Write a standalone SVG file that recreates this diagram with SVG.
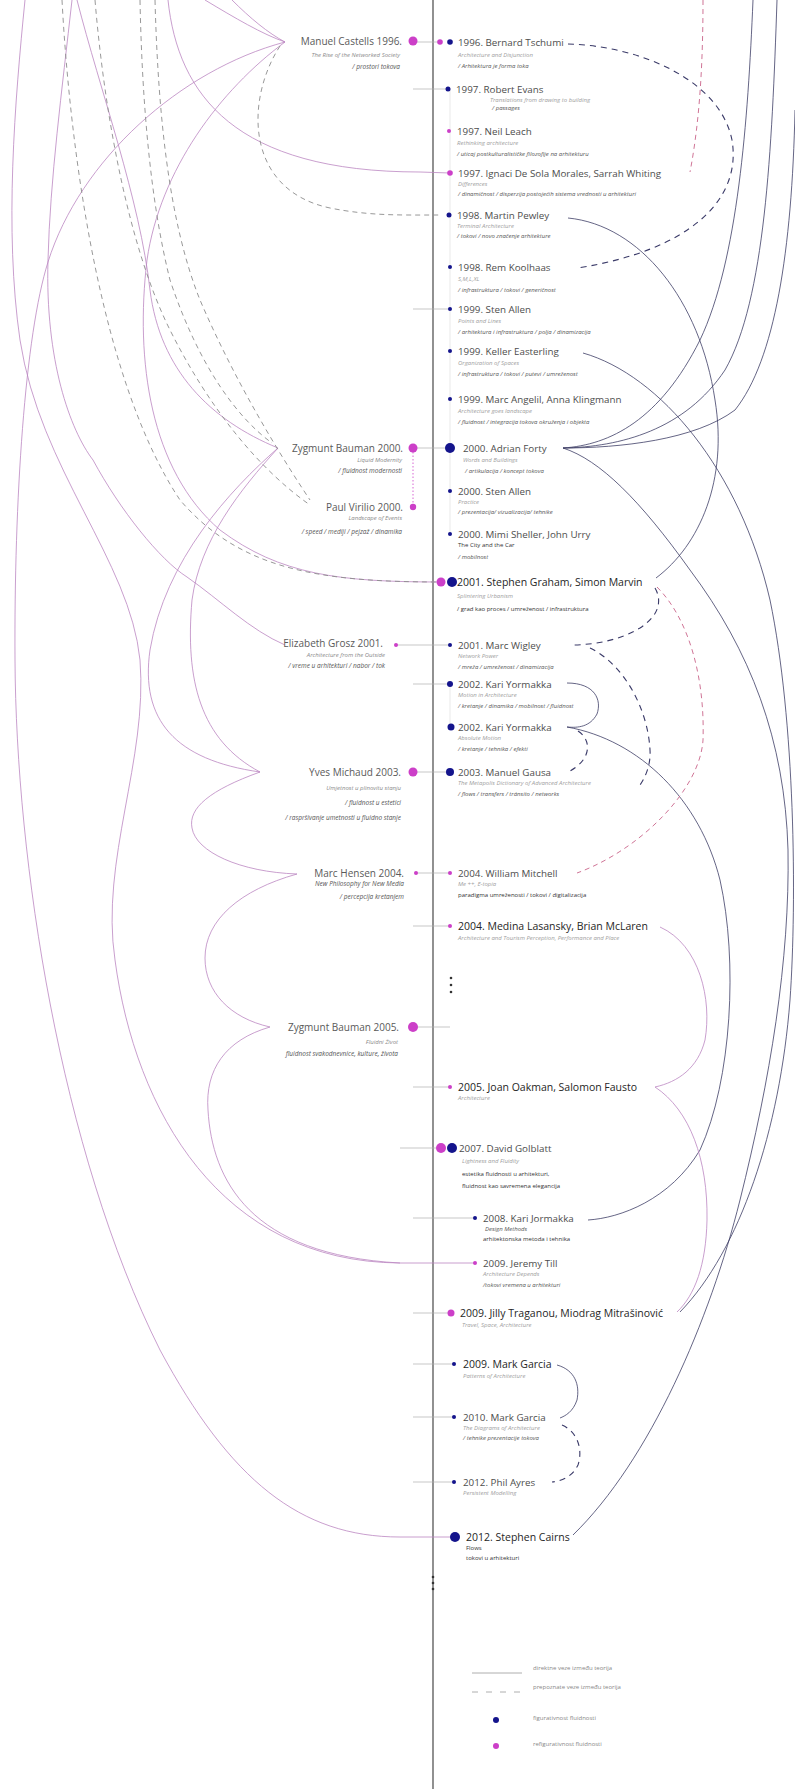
<svg xmlns="http://www.w3.org/2000/svg" width="795" height="1789" viewBox="0 0 795 1789">
<style>
  text { font-family: "Open Sans", "Liberation Sans", sans-serif; }
  .t { font-size: 9.8px; fill: #4d4d4d; }
  .tb { font-size: 10.5px; fill: #262626; }
  .s1 { font-size: 6px; font-style: italic; fill: #a0a0a0; }
  .s2 { font-size: 6px; font-style: italic; fill: #555; }
  .s3 { font-size: 6px; fill: #333; }
  .lt { font-size: 10px; fill: #5a5a5a; text-anchor: end; }
  .ls1 { font-size: 6px; font-style: italic; fill: #8a8a8a; text-anchor: end; }
  .ls2 { font-size: 6.5px; font-style: italic; fill: #555; text-anchor: end; }
  .lg { font-size: 6px; fill: #888; }
  .nv { fill: #14148c; }
  .mg { fill: #cc3fc8; }
  .cm { fill: none; stroke: #bb86c2; stroke-width: 0.8; }
  .cd { fill: none; stroke: #8c8c8c; stroke-width: 0.9; stroke-dasharray: 5 4; }
  .cn { fill: none; stroke: #3d3d66; stroke-width: 0.8; }
  .cnd { fill: none; stroke: #3a3a68; stroke-width: 1.1; stroke-dasharray: 6 5; }
  .cpd { fill: none; stroke: #c9648a; stroke-width: 0.9; stroke-dasharray: 5 4; }
  .stub { fill: none; stroke: #b0b0b0; stroke-width: 0.7; }
</style>

<!-- time axis -->
<g id="axis">
  <line x1="433" y1="0" x2="433" y2="1789" stroke="#555" stroke-width="1.3"/>
  <line x1="450" y1="89" x2="450" y2="534" stroke="#e0e0e0" stroke-width="0.7"/>
  <line x1="450" y1="684" x2="450" y2="727" stroke="#e0e0e0" stroke-width="0.7"/>
  <line x1="413" y1="452" x2="413" y2="503" stroke="#cc3fc8" stroke-width="0.8" stroke-dasharray="1.5 2"/>
  <circle cx="451" cy="978" r="1.3" fill="#333"/>
  <circle cx="451" cy="985" r="1.3" fill="#333"/>
  <circle cx="451" cy="992" r="1.3" fill="#333"/>
  <circle cx="433" cy="1577" r="1.3" fill="#333"/>
  <circle cx="433" cy="1583" r="1.3" fill="#333"/>
  <circle cx="433" cy="1589" r="1.3" fill="#333"/>
</g>

<!-- connectors -->
<g id="connectors">
  <!-- short horizontal links to the axis entries -->
  <path class="stub" d="M413,42 H440 M413,89 H448 M413,309 H450 M413,448 H450 M396,645 H450 M413,684 H450 M413,772 H450 M416,873 H450 M413,926 H450 M413,1027 H450 M413,1087 H450 M400,1148 H441 M413,1218 H475 M413,1313 H451 M413,1364 H454 M413,1417 H454 M413,1482 H454"/>

  <!-- left side: solid links -->
  <path class="cm" d="M285,42 C180,70 80,160 48,262 C25,335 14,500 15,660 C16,860 60,1150 160,1350 C230,1480 300,1537 400,1537 L455,1537"/>
  <path class="cm" d="M285,42 C220,90 160,170 147,260 C135,360 150,470 220,530 C280,575 340,582 441,582"/>
  <path class="cm" d="M168,0 C178,95 235,172 420,172 L450,173"/>
  <path class="cm" d="M205,0 C235,18 262,34 285,42"/>
  <path class="cm" d="M232,0 C250,18 268,33 285,42"/>
  <path class="cm" d="M25,0 C15,100 4,230 20,340 C40,470 130,560 140,660 C148,760 100,860 115,960 C135,1110 220,1262 400,1263 L475,1263"/>
  <path class="cm" d="M72,0 C62,90 50,180 48,260 C45,360 70,430 93,460 C120,510 160,560 187,577 C220,600 250,630 285,645"/>
  <path class="cm" d="M278,448 C230,490 165,560 150,650 C140,720 175,760 260,772"/>
  <path class="cm" d="M278,448 C240,490 200,540 192,600 C185,680 200,740 260,772"/>
  <path class="cm" d="M77,0 C100,90 140,200 150,290 C160,370 210,420 278,448"/>
  <path class="cm" d="M260,772 C210,790 188,808 192,828 C196,852 240,872 297,874"/>
  <path class="cm" d="M297,874 C240,890 205,920 205,958 C205,992 230,1018 270,1027"/>
  <path class="cm" d="M270,1027 C225,1040 205,1070 208,1110 C212,1180 250,1255 400,1263"/>

  <!-- left side: recognised links -->
  <path class="cd" d="M280,46 C245,100 245,190 330,208 C370,216 400,215 440,215"/>
  <path class="cd" d="M62,0 C70,150 100,380 180,500 C240,570 320,582 441,582"/>
  <path class="cd" d="M95,0 C105,120 130,250 170,330 C210,410 260,470 310,505"/>
  <path class="cd" d="M140,0 C142,100 150,200 170,280 C200,370 240,420 272,443"/>
  <path class="cd" d="M155,0 C158,110 168,220 200,300 C230,370 270,440 310,500"/>

  <!-- right side: direct links -->
  <path class="cn" d="M568,218 C640,225 700,300 715,400 C728,480 700,545 656,578"/>
  <path class="cn" d="M563,448 C600,460 640,500 690,570 C750,650 785,740 788,850 C790,960 770,1080 740,1200 C710,1320 650,1460 573,1535"/>
  <path class="cn" d="M753,0 C748,120 738,260 700,340 C660,420 610,445 563,448"/>
  <path class="cn" d="M777,0 C772,150 765,300 725,370 C685,430 620,447 563,448"/>
  <path class="cn" d="M795,110 C792,250 775,360 735,410 C695,440 620,448 563,448"/>
  <path class="cn" d="M583,353 C660,375 740,470 770,600 C795,720 797,900 790,1000 C780,1130 740,1250 680,1312"/>
  <path class="cn" d="M567,683 C595,683 602,700 597,714 C590,727 578,728 567,727"/>
  <path class="cn" d="M567,727 C640,740 700,800 720,880 C738,960 732,1080 700,1150 C670,1200 620,1218 588,1220"/>
  <path class="cn" d="M557,1365 C575,1370 580,1385 577,1400 C573,1412 565,1416 560,1418"/>
  <path class="cm" d="M660,927 C700,945 712,1000 705,1040 C698,1068 678,1082 655,1087"/>
  <path class="cm" d="M655,1087 C690,1110 708,1160 707,1220 C706,1265 695,1295 677,1312"/>

  <!-- right side: recognised links -->
  <path class="cnd" d="M568,44 C640,46 720,80 732,140 C742,200 690,250 578,268"/>
  <path class="cpd" d="M703,0 C703,60 700,120 690,172"/>
  <path class="cnd" d="M655,588 C662,600 660,615 640,628 C620,640 595,645 570,645"/>
  <path class="cnd" d="M590,648 C625,665 648,710 650,750 C651,765 645,778 640,785"/>
  <path class="cnd" d="M578,731 C592,740 592,760 568,772"/>
  <path class="cpd" d="M657,587 C690,620 705,680 703,740 C700,790 640,850 577,873"/>
  <path class="cnd" d="M562,1425 C578,1432 583,1450 578,1465 C572,1477 562,1481 552,1482"/>
</g>

<!-- left column: authors outside architecture -->
<g id="castells-1996">
  <circle class="mg" cx="413" cy="41" r="4.5"/>
  <text class="lt" x="402" y="44.5">Manuel Castells 1996.</text>
  <text class="ls1" x="400" y="57">The Rise of the Networked Society</text>
  <text class="ls2" x="400" y="68.5" font-style="normal">/ prostori tokova</text>
</g>
<g id="bauman-2000">
  <circle class="mg" cx="413" cy="448" r="4.5"/>
  <text class="lt" x="403" y="452">Zygmunt Bauman 2000.</text>
  <text class="ls1" x="402" y="462">Liquid Modernity</text>
  <text class="ls2" x="402" y="472.5">/ fluidnost modernosti</text>
</g>
<g id="virilio-2000">
  <circle class="mg" cx="413" cy="507" r="3.2"/>
  <text class="lt" x="403" y="511">Paul Virilio 2000.</text>
  <text class="ls1" x="402" y="519.5">Landscape of Events</text>
  <text class="ls2" x="402" y="533.5">/ speed / mediji / pejzaž / dinamika</text>
</g>
<g id="grosz-2001">
  <circle class="mg" cx="396" cy="645" r="2"/>
  <text class="lt" x="383" y="646.5" font-size="9.5">Elizabeth Grosz 2001.</text>
  <text class="ls1" x="385" y="657">Architecture from the Outside</text>
  <text class="ls2" x="385" y="667.5">/ vreme u arhitekturi / nabor / tok</text>
</g>
<g id="michaud-2003">
  <circle class="mg" cx="413" cy="772" r="4.5"/>
  <text class="lt" x="401" y="776">Yves Michaud 2003.</text>
  <text class="ls1" x="401" y="790" font-size="8">Umjetnost u plinovitu stanju</text>
  <text class="ls2" x="401" y="805" font-size="7.5" font-style="normal">/ fluidnost u estetici</text>
  <text class="ls2" x="401" y="820" font-size="7.5" font-style="normal">/ raspršivanje umetnosti u fluidno stanje</text>
</g>
<g id="hensen-2004">
  <circle class="mg" cx="416" cy="873" r="2"/>
  <text class="lt" x="404" y="876.5">Marc Hensen 2004.</text>
  <text class="ls2" x="404" y="885.5">New Philosophy for New Media</text>
  <text class="ls2" x="404" y="899">/ percepcija kretanjem</text>
</g>
<g id="bauman-2005">
  <circle class="mg" cx="413" cy="1027" r="5"/>
  <text class="lt" x="399" y="1031">Zygmunt Bauman 2005.</text>
  <text class="ls1" x="398" y="1043.5" font-size="7.5">Fluidni Život</text>
  <text class="ls2" x="398" y="1055.5" font-size="7.5" font-style="normal">fluidnost svakodnevnice, kulture, života</text>
</g>

<!-- right column: architectural theory -->
<g id="tschumi-1996">
  <circle class="mg" cx="440" cy="42" r="2.8"/>
  <circle class="nv" cx="450" cy="42" r="2.8"/>
  <text class="t" x="458" y="45.5">1996. Bernard Tschumi</text>
  <text class="s1" x="458" y="57">Architecture and Disjunction</text>
  <text class="s2" x="458" y="68">/ Arhitektura je forma toka</text>
</g>
<g id="evans-1997">
  <circle class="nv" cx="448" cy="89" r="2.5"/>
  <text class="t" x="456" y="92.5">1997. Robert Evans</text>
  <text class="s1" x="490" y="102">Translations from drawing to building</text>
  <text class="s2" x="492" y="110">/ passages</text>
</g>
<g id="leach-1997">
  <circle class="mg" cx="449" cy="131" r="2"/>
  <text class="t" x="457" y="134.5">1997. Neil Leach</text>
  <text class="s1" x="457" y="144.5">Rethinking architecture</text>
  <text class="s2" x="457" y="155.5">/ uticaj postkulturalističke filozofije na arhitekturu</text>
</g>
<g id="desolamorales-1997">
  <circle class="mg" cx="450" cy="173" r="2.8"/>
  <text class="t" x="458" y="176.5">1997. Ignaci De Sola Morales, Sarrah Whiting</text>
  <text class="s1" x="458" y="185.5">Differences</text>
  <text class="s2" x="458" y="195.5">/ dinamičnost / disperzija postojećih sistema vrednosti u arhitekturi</text>
</g>
<g id="pewley-1998">
  <circle class="nv" cx="449" cy="215" r="2.5"/>
  <text class="t" x="457" y="218.5">1998. Martin Pewley</text>
  <text class="s1" x="457" y="227.5">Terminal Architecture</text>
  <text class="s2" x="457" y="237.5">/ tokovi / novo značenje arhitekture</text>
</g>
<g id="koolhaas-1998">
  <circle class="nv" cx="450" cy="267" r="2"/>
  <text class="t" x="458" y="270.5">1998. Rem Koolhaas</text>
  <text class="s1" x="458" y="280.5">S,M,L,XL</text>
  <text class="s2" x="458" y="292">/ infrastruktura / tokovi / generičnost</text>
</g>
<g id="allen-1999">
  <circle class="nv" cx="450" cy="309" r="2"/>
  <text class="t" x="458" y="312.5">1999. Sten Allen</text>
  <text class="s1" x="458" y="322.5">Points and Lines</text>
  <text class="s2" x="458" y="334">/ arhitektura i infrastruktura / polja / dinamizacija</text>
</g>
<g id="easterling-1999">
  <circle class="nv" cx="450" cy="351" r="2"/>
  <text class="t" x="458" y="354.5">1999. Keller Easterling</text>
  <text class="s1" x="458" y="364.5">Organization of Spaces</text>
  <text class="s2" x="458" y="376">/ infrastruktura / tokovi / putevi / umreženost</text>
</g>
<g id="angelil-1999">
  <circle class="nv" cx="450" cy="399" r="2"/>
  <text class="t" x="458" y="402.5">1999. Marc Angelil, Anna Klingmann</text>
  <text class="s1" x="458" y="412.5">Architecture goes landscape</text>
  <text class="s2" x="458" y="424">/ fluidnost / integracija tokova okruženja i objekta</text>
</g>
<g id="forty-2000">
  <circle class="nv" cx="450" cy="448" r="5"/>
  <text class="t" x="463" y="451.5">2000. Adrian Forty</text>
  <text class="s1" x="463" y="461.5">Words and Buildings</text>
  <text class="s2" x="465" y="473">/ artikulacija / koncept tokova</text>
</g>
<g id="allen-2000">
  <circle class="nv" cx="450" cy="491" r="2"/>
  <text class="t" x="458" y="494.5">2000. Sten Allen</text>
  <text class="s1" x="458" y="503.5">Practice</text>
  <text class="s2" x="458" y="514">/ prezentacija/ vizualizacija/ tehnike</text>
</g>
<g id="sheller-2000">
  <circle class="nv" cx="450" cy="534" r="2"/>
  <text class="t" x="458" y="537.5">2000. Mimi Sheller, John Urry</text>
  <text class="s3" x="458" y="547">The City and the Car</text>
  <text class="s2" x="458" y="559">/ mobilnost</text>
</g>
<g id="graham-2001">
  <circle class="mg" cx="441" cy="582" r="4.5"/>
  <circle class="nv" cx="452" cy="582" r="5"/>
  <text class="tb" x="457" y="586">2001. Stephen Graham, Simon Marvin</text>
  <text class="s1" x="457" y="597.5" font-size="7">Splintering Urbanism</text>
  <text class="s3" x="457" y="611" font-size="8">/ grad kao proces / umreženost / infrastruktura</text>
</g>
<g id="wigley-2001">
  <circle class="nv" cx="450" cy="645" r="2"/>
  <text class="t" x="458" y="648.5">2001. Marc Wigley</text>
  <text class="s1" x="458" y="658">Network Power</text>
  <text class="s2" x="458" y="669">/ mreža / umreženost / dinamizacija</text>
</g>
<g id="yormakka-2002a">
  <circle class="nv" cx="450" cy="684" r="3"/>
  <text class="t" x="458" y="687.5">2002. Kari Yormakka</text>
  <text class="s1" x="458" y="697">Motion in Architecture</text>
  <text class="s2" x="458" y="708">/ kretanje / dinamika / mobilnost / fluidnost</text>
</g>
<g id="yormakka-2002b">
  <circle class="nv" cx="451" cy="727" r="3.5"/>
  <text class="t" x="458" y="730.5">2002. Kari Yormakka</text>
  <text class="s1" x="458" y="740">Absolute Motion</text>
  <text class="s2" x="458" y="750.5">/ kretanje / tehnika / efekti</text>
</g>
<g id="gausa-2003">
  <circle class="nv" cx="450" cy="772" r="4"/>
  <text class="t" x="458" y="775.5">2003. Manuel Gausa</text>
  <text class="s1" x="458" y="784.5">The Metapolis Dictionary of Advanced Architecture</text>
  <text class="s2" x="458" y="795.5">/ flows / transfers / tránsito / networks</text>
</g>
<g id="mitchell-2004">
  <circle class="mg" cx="450" cy="873" r="2"/>
  <text class="t" x="458" y="876.5">2004. William Mitchell</text>
  <text class="s1" x="458" y="886">Me ++, E-topia</text>
  <text class="s3" x="458" y="896.5">paradigma umreženosti / tokovi / digitalizacija</text>
</g>
<g id="lasansky-2004">
  <circle class="mg" cx="450" cy="926" r="2"/>
  <text class="tb" x="458" y="929.5">2004. Medina Lasansky, Brian McLaren</text>
  <text class="s1" x="458" y="939.5">Architecture and Tourism Perception, Performance and Place</text>
</g>
<g id="oakman-2005">
  <circle class="mg" cx="450" cy="1087" r="2"/>
  <text class="tb" x="458" y="1090.5">2005. Joan Oakman, Salomon Fausto</text>
  <text class="s1" x="458" y="1100">Architecture</text>
</g>
<g id="golblatt-2007">
  <circle class="mg" cx="441" cy="1148" r="5"/>
  <circle class="nv" cx="452" cy="1148" r="5"/>
  <text class="t" x="459" y="1151.5">2007. David Golblatt</text>
  <text class="s1" x="462" y="1162.5" font-size="7" font-style="normal">Lightness and Fluidity</text>
  <text class="s3" x="462" y="1175.5" font-size="7.5">estetika fluidnosti u arhitekturi,</text>
  <text class="s3" x="462" y="1187.5" font-size="7.5">fluidnost kao savremena elegancija</text>
</g>
<g id="jormakka-2008">
  <circle class="nv" cx="475" cy="1218" r="2"/>
  <text class="t" x="483" y="1221.5">2008. Kari Jormakka</text>
  <text class="s2" x="485" y="1231">Design Methods</text>
  <text class="s3" x="483" y="1241">arhitektonska metoda i tehnika</text>
</g>
<g id="till-2009">
  <circle class="mg" cx="475" cy="1263" r="2"/>
  <text class="t" x="483" y="1266.5">2009. Jeremy Till</text>
  <text class="s1" x="483" y="1276">Architecture Depends</text>
  <text class="s2" x="483" y="1287">/tokovi vremena u arhitekturi</text>
</g>
<g id="traganou-2009">
  <circle class="mg" cx="451" cy="1313" r="3.5"/>
  <text class="tb" x="460" y="1316.5">2009. Jilly Traganou, Miodrag Mitrašinović</text>
  <text class="s1" x="462" y="1326.5">Travel, Space, Architecture</text>
</g>
<g id="garcia-2009">
  <circle class="nv" cx="454" cy="1364" r="2"/>
  <text class="tb" x="463" y="1367.5">2009. Mark Garcia</text>
  <text class="s1" x="463" y="1377.5">Patterns of Architecture</text>
</g>
<g id="garcia-2010">
  <circle class="nv" cx="454" cy="1417" r="2"/>
  <text class="t" x="463" y="1420.5">2010. Mark Garcia</text>
  <text class="s1" x="463" y="1430">The Diagrams of Architecture</text>
  <text class="s2" x="463" y="1439.5">/ tehnike prezentacije tokova</text>
</g>
<g id="ayres-2012">
  <circle class="nv" cx="454" cy="1482" r="2"/>
  <text class="t" x="463" y="1485.5">2012. Phil Ayres</text>
  <text class="s1" x="463" y="1495">Persistent Modelling</text>
</g>
<g id="cairns-2012">
  <circle class="nv" cx="455" cy="1537" r="5"/>
  <text class="tb" x="466" y="1540.5">2012. Stephen Cairns</text>
  <text class="s3" x="466" y="1550">Flows</text>
  <text class="s3" x="466" y="1560">tokovi u arhitekturi</text>
</g>

<!-- legend -->
<g id="legend">
  <line x1="472" y1="1673" x2="522" y2="1673" stroke="#999" stroke-width="0.8"/>
  <line x1="472" y1="1692" x2="522" y2="1692" stroke="#999" stroke-width="0.8" stroke-dasharray="6 8"/>
  <circle class="nv" cx="496" cy="1720" r="3"/>
  <circle class="mg" cx="496" cy="1746" r="3"/>
  <text class="lg" x="533" y="1670">direktne veze između teorija</text>
  <text class="lg" x="533" y="1689">prepoznate veze između teorija</text>
  <text class="lg" x="533" y="1720">figurativnost fluidnosti</text>
  <text class="lg" x="533" y="1746">refigurativnost fluidnosti</text>
</g>
</svg>
